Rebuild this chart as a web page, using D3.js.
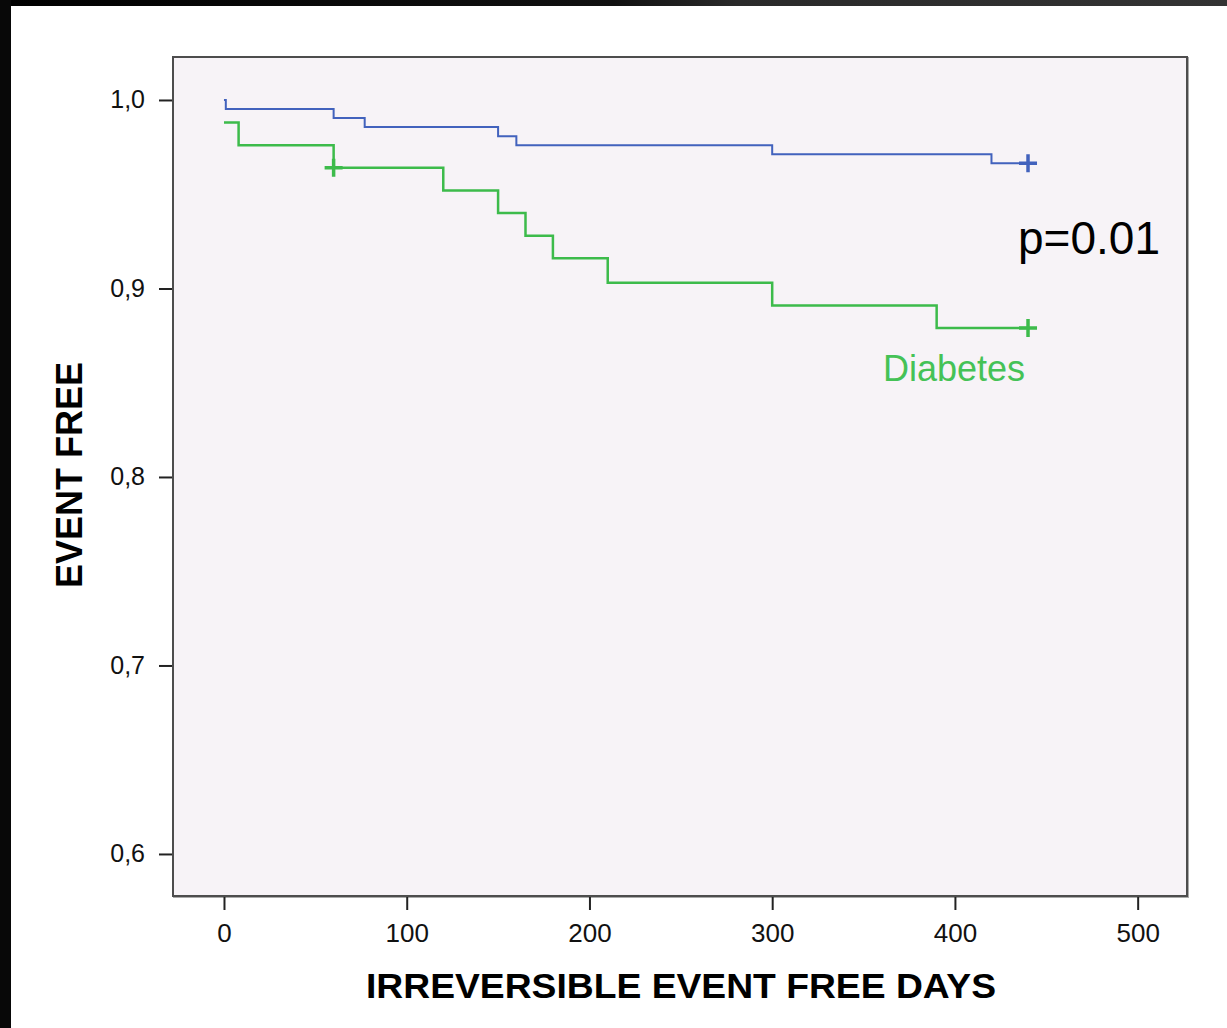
<!DOCTYPE html>
<html>
<head>
<meta charset="utf-8">
<script src="https://cdn.jsdelivr.net/npm/d3@7/dist/d3.min.js"></script>
<style>
    html, body { margin: 0; padding: 0; background: #fff; }
    svg { display: block; }
    text { font-family: "Liberation Sans", Arial, sans-serif; }
</style>
</head>
<body>
<svg id="chart"></svg>
<script>
// x ticks / y ticks
var xTicks = [0, 100, 200, 300, 400, 500];
var yTicks = [0.6, 0.7, 0.8, 0.9, 1.0];

// no diabetes (blue)
var blueDays = [0, 1, 60, 77, 150, 160, 300, 420, 440];
var blueSurv = [1.0, 0.9952, 0.9904, 0.9856, 0.9808, 0.976, 0.9712, 0.9664, 0.9664];
var blueCensorDays = [440];
var blueCensorSurv = [0.9664];

// diabetes (green)
var greenDays = [0, 8, 60, 120, 150, 165, 180, 210, 300, 390, 440];
var greenSurv = [0.988, 0.976, 0.964, 0.952, 0.940, 0.928, 0.916, 0.903, 0.891, 0.879, 0.879];
var greenCensorDays = [60, 440];
var greenCensorSurv = [0.964, 0.879];

var cfg = {
    width: 1227,
    height: 1028,
    plot: {left: 173, top: 57, right: 1187, bottom: 896},
    blue: "#4262bd",
    green: "#3dbb4b"
};

var svg = d3.select("#chart").attr("width", cfg.width).attr("height", cfg.height);

// dark frame of the photo
var defs = svg.append("defs");
var grad = defs.append("linearGradient").attr("id", "top-strip")
    .attr("x1", "0%").attr("y1", "0%").attr("x2", "100%").attr("y2", "0%");
grad.append("stop").attr("offset", "0%").style("stop-color", "#000");
grad.append("stop").attr("offset", "50%").style("stop-color", "#111");
grad.append("stop").attr("offset", "60%").style("stop-color", "#2a2a2a");
grad.append("stop").attr("offset", "100%").style("stop-color", "#333");
svg.append("rect").attr("x", 0).attr("y", 0).attr("width", cfg.width).attr("height", 6)
    .attr("fill", "url(#top-strip)");
svg.append("rect").attr("x", 0).attr("y", 0).attr("width", 11).attr("height", cfg.height)
    .attr("fill", "#080808");

var p = cfg.plot;
var x = d3.scaleLinear().domain([-27.9, 527]).range([p.left, p.right]);
var y = d3.scaleLinear().domain([0.5777, 1.0228]).range([p.bottom, p.top]);

// plot background + frame
svg.append("rect").attr("x", p.left + 1).attr("y", p.top + 1)
    .attr("width", p.right - p.left).attr("height", p.bottom - p.top)
    .attr("fill", "none").attr("stroke", "#aaa").attr("stroke-width", 2);
svg.append("rect").attr("x", p.left).attr("y", p.top)
    .attr("width", p.right - p.left).attr("height", p.bottom - p.top)
    .attr("fill", "#f7f3f7").attr("stroke", "#4d4d4d").attr("stroke-width", 2);

// axes
var xAxis = d3.axisBottom(x).tickValues(xTicks).tickSize(13).tickPadding(14)
    .tickFormat(d3.format("d"));
var gx = svg.append("g").attr("transform", "translate(0," + (p.bottom + 1) + ")").call(xAxis);
gx.select(".domain").remove();
gx.selectAll("line").attr("stroke", "#222").attr("stroke-width", 2);
gx.selectAll("text").attr("font-size", 26).attr("fill", "#111")
    .attr("font-family", "'Liberation Sans', Arial, sans-serif");

var yAxis = d3.axisLeft(y).tickValues(yTicks).tickSize(13).tickPadding(14)
    .tickFormat(function (d) { return d3.format(".1f")(d).replace(".", ","); });
var gy = svg.append("g").attr("transform", "translate(" + (p.left - 1) + ",0)").call(yAxis);
gy.select(".domain").remove();
gy.selectAll("line").attr("stroke", "#222").attr("stroke-width", 2);
gy.selectAll("text").attr("font-size", 25).attr("fill", "#111")
    .attr("font-family", "'Liberation Sans', Arial, sans-serif");

// axis titles
svg.append("text").attr("x", 681).attr("y", 998).attr("text-anchor", "middle")
    .attr("font-size", 35).attr("font-weight", "bold").attr("fill", "#000")
    .attr("textLength", 630).attr("lengthAdjust", "spacingAndGlyphs")
    .text("IRREVERSIBLE EVENT FREE DAYS");
svg.append("text").attr("transform", "translate(82,475) rotate(-90)").attr("text-anchor", "middle")
    .attr("font-size", 36).attr("font-weight", "bold").attr("fill", "#000")
    .text("EVENT FREE");

// survival curves
var stepLine = d3.line()
    .x(function (d) { return x(d[0]); })
    .y(function (d) { return y(d[1]); })
    .curve(d3.curveStepAfter);

var drawCurve = function (days, surv, cDays, cSurv, color, width) {
    var pts = d3.zip(days, surv);
    svg.append("path").attr("d", stepLine(pts)).attr("fill", "none")
        .attr("stroke", color).attr("stroke-width", width);
    // censor marks
    var cens = d3.zip(cDays, cSurv);
    svg.append("g").selectAll("path").data(cens).enter().append("path")
        .attr("d", function (d) {
            var cx = x(d[0]), cy = y(d[1]);
            return "M" + (cx - 9) + "," + cy + "H" + (cx + 9) + "M" + cx + "," + (cy - 9) + "V" + (cy + 9);
        })
        .attr("stroke", color).attr("stroke-width", 3.5).attr("fill", "none");
};

drawCurve(blueDays, blueSurv, blueCensorDays, blueCensorSurv, cfg.blue, 2);
drawCurve(greenDays, greenSurv, greenCensorDays, greenCensorSurv, cfg.green, 2.5);

// annotations
svg.append("text").attr("x", 1018).attr("y", 254).attr("font-size", 46).attr("fill", "#000")
    .text("p=0.01");
svg.append("text").attr("x", 883).attr("y", 381).attr("font-size", 36).attr("fill", "#45c256")
    .text("Diabetes");
</script>
</body>
</html>
